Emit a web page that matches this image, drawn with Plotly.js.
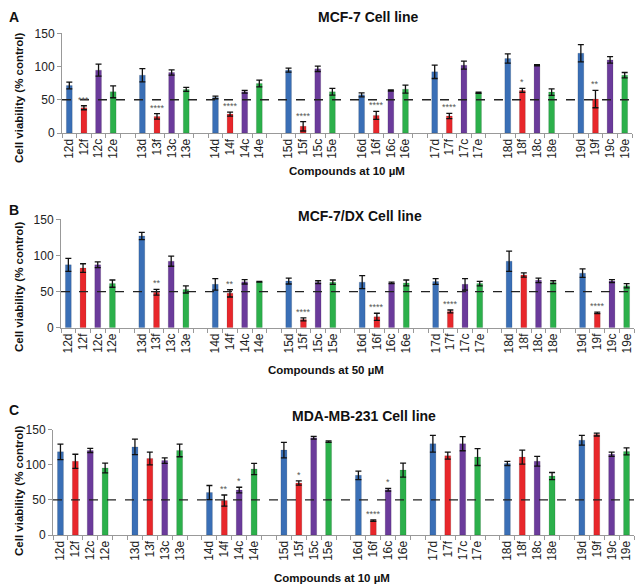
<!DOCTYPE html>
<html>
<head>
<meta charset="utf-8">
<script src="https://cdn.plot.ly/plotly-3.0.1.min.js"></script>
<style>html,body{margin:0;padding:0;background:#fff}#chart{width:639px;height:585px}</style>
</head>
<body>
<div id="chart"></div>
<script>
// ---------- DATA ----------
const GROUPS = ['12','13','14','15','16','17','18','19'];
const SUFFIXES = ['d','f','c','e'];
const SERIES_COLORS = ['#3a6fb6','#e8272b','#6b3b9b','#2cb04b'];
const THRESHOLD = 50;

// Panel A: MCF-7, 10 µM
const A_d = [71.5, 87, 53.5, 94.5, 57.5, 92, 112, 120];
const A_d_err = [5, 10, 2, 3, 3, 10, 7, 13];
const A_f = [38, 25, 28.5, 10, 26.5, 25.5, 64, 51];
const A_f_err = [3, 4, 3, 7, 6, 4, 3, 13];
const A_c = [94.5, 91, 62, 96.5, 64, 102, 102, 110];
const A_c_err = [9, 4, 2, 4, 1, 6, 1, 5];
const A_e = [62, 65.5, 74.5, 62, 66, 60.5, 61.5, 87];
const A_e_err = [9, 3, 5, 5, 6, 1, 5, 4];
const A_f_stars = ['***','****','****','****','****','****','*','**'];

// Panel B: MCF-7/DX, 50 µM
const B_d = [87, 127, 60, 64.5, 63, 64, 92, 75.5];
const B_d_err = [9, 5, 8, 4, 9, 4, 14, 6];
const B_f = [82.5, 49, 47.5, 11.5, 15, 22.5, 73, 20.5];
const B_f_err = [6, 4, 5, 2, 5, 2, 3, 1];
const B_c = [87, 92, 63.5, 63, 62, 60, 65.5, 64.5];
const B_c_err = [4, 7, 3, 2, 1, 8, 3, 2];
const B_e = [61, 53, 63.5, 63, 62, 61, 63, 58];
const B_e_err = [5, 5, 0.5, 3, 4, 3, 2, 3];
const B_f_stars = ['','**','**','****','****','****','','****'];

// Panel C: MDA-MB-231, 10 µM
const C_d = [118.5, 125.5, 60.5, 121, 85, 130, 102, 135];
const C_d_err = [11, 11, 10, 11, 6, 12, 3, 7];
const C_f = [105, 109, 49, 74, 20.5, 113, 111, 143];
const C_f_err = [10, 9, 8, 3, 1, 5, 10, 2];
const C_c = [120.5, 106, 64, 138.5, 64.5, 130, 105, 115];
const C_c_err = [3, 4, 4, 2, 2, 10, 7, 3];
const C_e = [95.5, 120.5, 94, 133, 92.5, 111, 84, 119];
const C_e_err = [7, 9, 8, 1, 10, 12, 5, 5];
const C_f_stars = ['','','**','*','****','','',''];
const C_c_stars = ['','','*','','*','','',''];

const PANELS = [
  {letter:'A', title:'MCF-7 Cell line', xtitle:'Compounds at 10 µM',
   series:[A_d,A_f,A_c,A_e], errs:[A_d_err,A_f_err,A_c_err,A_e_err],
   stars:[null,A_f_stars,null,null]},
  {letter:'B', title:'MCF-7/DX Cell line', xtitle:'Compounds at 50 µM',
   series:[B_d,B_f,B_c,B_e], errs:[B_d_err,B_f_err,B_c_err,B_e_err],
   stars:[null,B_f_stars,null,null]},
  {letter:'C', title:'MDA-MB-231 Cell line', xtitle:'Compounds at 10 µM',
   series:[C_d,C_f,C_c,C_e], errs:[C_d_err,C_f_err,C_c_err,C_e_err],
   stars:[null,C_f_stars,C_c_stars,null]}
];

// ---------- LAYOUT GEOMETRY (pixels of the 639x585 canvas) ----------
const W = 639, H = 585;
const GEOM = [
  {x0:62, x1:632, yBot:133, yTop:33.3, titleX:368, titleY:17, letterX:14, letterY:17, xtY:171, xtX:347, ytY:98},
  {x0:61, x1:634, yBot:327.7, yTop:219.3, titleX:360, titleY:216, letterX:14, letterY:210, xtY:370, xtX:326, ytY:287},
  {x0:53, x1:634, yBot:535, yTop:429.7, titleX:364, titleY:416, letterX:14, letterY:410, xtY:578, xtX:332, ytY:491}
];

// category order with blank spacer categories between groups
const catOrder = [];
GROUPS.forEach((g, gi) => {
  SUFFIXES.forEach(s => catOrder.push(g + s));
  if (gi < GROUPS.length - 1) catOrder.push(' '.repeat(gi + 1));
});

const FONT = 'Liberation Sans, Arial, sans-serif';
const traces = [];
const annotations = [];
const shapes = [];
const layout = {
  width: W, height: H,
  margin: {l:0, r:0, t:0, b:0},
  paper_bgcolor: '#fff', plot_bgcolor: 'rgba(0,0,0,0)',
  showlegend: false, barmode: 'overlay',
  font: {family: FONT, color: '#222'},
  annotations: annotations, shapes: shapes
};

PANELS.forEach((p, pi) => {
  const g = GEOM[pi];
  const xa = pi === 0 ? 'x' : 'x' + (pi + 1);
  const ya = pi === 0 ? 'y' : 'y' + (pi + 1);
  const xaKey = pi === 0 ? 'xaxis' : 'xaxis' + (pi + 1);
  const yaKey = pi === 0 ? 'yaxis' : 'yaxis' + (pi + 1);

  SUFFIXES.forEach((s, si) => {
    const xs = GROUPS.map(gr => gr + s);
    traces.push({
      type: 'bar', x: xs, y: p.series[si], xaxis: xa, yaxis: ya,
      width: 0.4,
      marker: {color: SERIES_COLORS[si], line: {color: 'rgba(0,0,0,0.25)', width: 0.5}},
      error_y: {type: 'data', array: p.errs[si], visible: true, color: '#111', thickness: 1.3, width: 3},
      hoverinfo: 'x+y'
    });
    if (p.stars[si]) {
      p.stars[si].forEach((st, k) => {
        if (!st) return;
        annotations.push({
          xref: xa, yref: ya, x: xs[k], y: p.series[si][k] + p.errs[si][k],
          text: st, showarrow: false, yanchor: 'bottom', yshift: -1,
          font: {family: FONT, size: 9, color: '#555'}
        });
      });
    }
  });

  layout[xaKey] = {
    domain: [g.x0 / W, g.x1 / W], anchor: ya,
    type: 'category', categoryorder: 'array', categoryarray: catOrder,
    range: [-0.5, catOrder.length - 0.5],
    tickson: 'boundaries', ticks: 'outside', ticklen: 4, tickcolor: '#999',
    showline: true, linecolor: '#999', linewidth: 1,
    tickangle: -90, tickfont: {family: FONT, size: 12, color: '#222'},
    showgrid: false, zeroline: false, fixedrange: true
  };
  layout[yaKey] = {
    domain: [1 - g.yBot / H, 1 - g.yTop / H], anchor: xa,
    range: [0, 150], tickvals: [0, 50, 100, 150],
    ticks: 'outside', ticklen: 4, tickcolor: '#999',
    showline: true, linecolor: '#999', linewidth: 1,
    tickfont: {family: FONT, size: 12, color: '#222'},
    showgrid: false, zeroline: false, fixedrange: true
  };

  shapes.push({
    type: 'line', xref: xa + ' domain', yref: ya, x0: 0, x1: 1, y0: THRESHOLD, y1: THRESHOLD,
    line: {color: '#222', width: 1.3, dash: 'dash'}, layer: 'above'
  });

  annotations.push({
    xref: 'paper', yref: 'paper', x: g.titleX / W, y: 1 - g.titleY / H,
    text: '<b>' + p.title + '</b>', showarrow: false, xanchor: 'center', yanchor: 'middle',
    font: {family: FONT, size: 14, color: '#111'}
  });
  annotations.push({
    xref: 'paper', yref: 'paper', x: g.letterX / W, y: 1 - g.letterY / H,
    text: '<b>' + p.letter + '</b>', showarrow: false, xanchor: 'center', yanchor: 'middle',
    font: {family: FONT, size: 14, color: '#111'}
  });
  annotations.push({
    xref: 'paper', yref: 'paper', x: g.xtX / W, y: 1 - g.xtY / H,
    text: '<b>' + p.xtitle + '</b>', showarrow: false, xanchor: 'center', yanchor: 'middle',
    font: {family: FONT, size: 11.5, color: '#111'}
  });
  annotations.push({
    xref: 'paper', yref: 'paper', x: 19 / W, y: 1 - g.ytY / H,
    text: '<b>Cell viability (% control)</b>', showarrow: false, textangle: -90,
    xanchor: 'center', yanchor: 'middle',
    font: {family: FONT, size: 11.5, color: '#111'}
  });
});

Plotly.newPlot('chart', traces, layout, {displayModeBar: false, staticPlot: true});
</script>
</body>
</html>
